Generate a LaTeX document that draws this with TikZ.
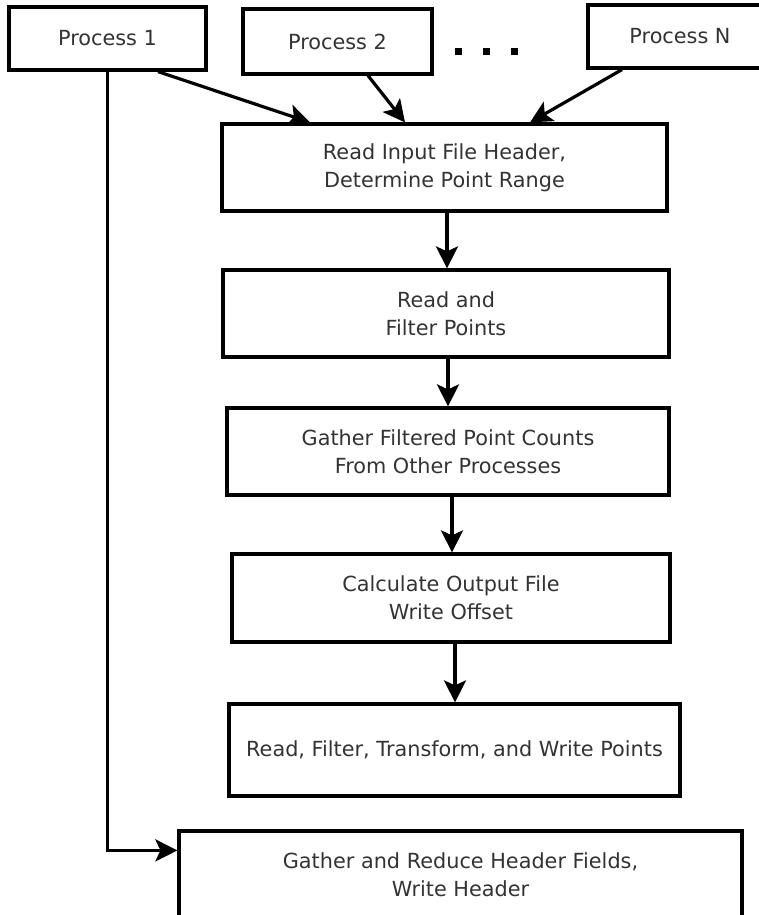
\documentclass[tikz,border=0pt]{standalone}
\usepackage{fontspec}
\setmainfont{DejaVu Sans}
\usetikzlibrary{positioning,arrows.meta}

\begin{document}
\begin{tikzpicture}[x=1pt,y=-1pt,
		stepbox/.style={draw, line width=3.2pt, align=center, text=black!80, inner sep=0pt,
			font=\fontsize{20.8}{28}\selectfont},
		arr/.style={line width=3.2pt, -{Stealth[length=22pt,width=22pt,inset=5pt]}}]
			\useasboundingbox (0,0) rectangle (759,915);
			
			\node[stepbox, minimum width=197pt, minimum height=63pt] (proc1) at (107.5,38.5) {Process 1};
			\node[stepbox, minimum width=189pt, minimum height=65pt] (proc2) at (337.5,41.5) {Process 2};
			\node[stepbox, minimum width=184pt, minimum height=63pt] (procN) at (680,36.5) {Process N};
			\foreach \x in {458,486,514}
				\fill (\x-3.5,48.5) rectangle ++(7,7);
			
			\node[stepbox, minimum width=445pt, minimum height=87pt] (readhdr) at (444.5,167.5) {Read Input File Header,\\Determine Point Range};
			\node[stepbox, minimum width=446pt, minimum height=87pt] (filter) at (446,313.5) {Read and\\ Filter Points};
			\node[stepbox, minimum width=442pt, minimum height=87pt] (gather) at (448,451.5) {Gather Filtered Point Counts\\From Other Processes};
			\node[stepbox, minimum width=438pt, minimum height=88pt] (offset) at (451,598) {Calculate Output File\\Write Offset};
			\node[stepbox, minimum width=451pt, minimum height=92pt] (writepts) at (454.5,750) {Read, Filter, Transform, and Write Points};
			\node[stepbox, minimum width=563pt, minimum height=87pt] (header) at (460.5,874.5) {Gather and Reduce Header Fields,\\Write Header};
			
			\draw[arr] ([xshift=50.5pt]proc1.south) -- ([xshift=-134.5pt]readhdr.north);
			\draw[arr] ([xshift=30.5pt]proc2.south) -- ([xshift=-39.5pt]readhdr.north);
			\draw[arr] ([xshift=-58pt]procN.south) -- ([xshift=85.5pt]readhdr.north);
			
			\draw[arr] ([xshift=2.5pt]readhdr.south) -- ([xshift=1pt]filter.north);
			\draw[arr] ([xshift=2pt]filter.south) -- ([xshift=0pt]gather.north);
			\draw[arr] ([xshift=4pt]gather.south) -- ([xshift=1pt]offset.north);
			\draw[arr] ([xshift=4pt]offset.south) -- ([xshift=0.5pt]writepts.north);
			
			\draw[arr] (proc1.south) |- ([yshift=-21pt]header.north west);
		\end{tikzpicture}
\end{document}
